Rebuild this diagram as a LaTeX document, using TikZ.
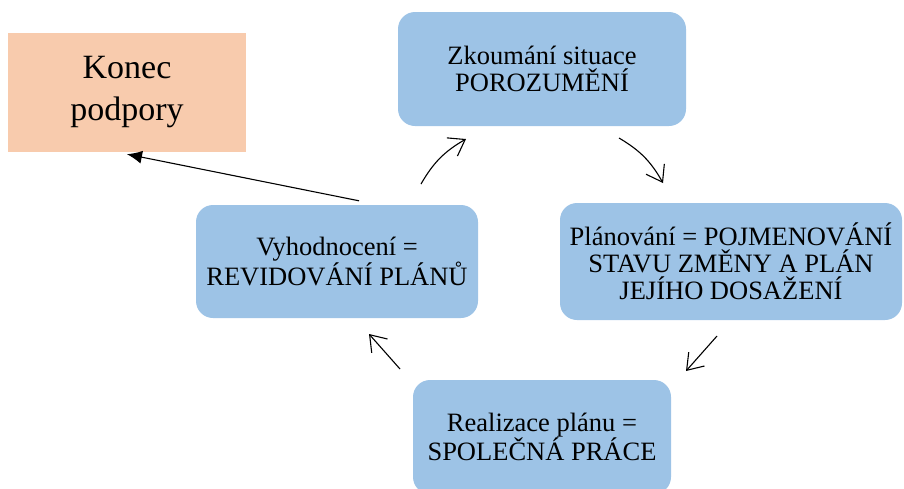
\documentclass[tikz,border=0pt]{standalone}
\usepackage{fontspec}
\setmainfont{Liberation Serif}
\usepackage{tikz}
\usetikzlibrary{positioning,arrows.meta}
\definecolor{phaseblue}{HTML}{9DC3E6}
\definecolor{endpeach}{HTML}{F8CBAD}
\tikzset{
	x=1pt, y=1pt,
	phase/.style={fill=phaseblue, rounded corners=17pt, align=center, inner sep=0pt,
		font=\fontsize{26.5}{27}\selectfont},
	stopbox/.style={fill=endpeach, align=center, inner sep=0pt,
		font=\fontsize{34}{42}\selectfont},
	cyclearrow/.style={-{Straight Barb[length=15pt,width=21pt]}, line width=1.1pt},
	endarrow/.style={-{Latex[length=15pt,width=13pt]}, line width=1.1pt},
}

\begin{document}
\begin{tikzpicture}
	\useasboundingbox (0,0) rectangle (904,-488);
	% faze cyklu
	\node[phase, minimum width=288, minimum height=114] (zkoum) at (542,-69)
		{Zkoumání situace\\POROZUMĚNÍ};
	\node[phase, minimum width=342, minimum height=117] (plan) at (731,-261.5)
		{Plánování = POJMENOVÁNÍ\\STAVU ZMĚNY A PLÁN\\JEJÍHO DOSAŽENÍ};
	\node[phase, minimum width=258, minimum height=114] (real) at (542,-437)
		{Realizace plánu =\\SPOLEČNÁ PRÁCE};
	\node[phase, minimum width=282, minimum height=113] (eval) at (337,-261.5)
		{Vyhodnocení =\\REVIDOVÁNÍ PLÁNŮ};
	\node[stopbox, minimum width=238, minimum height=119] (konec) at (127,-92.5)
		{Konec\\podpory};

	% sipky cyklu
	\coordinate (a1) at (421,-184);
	\coordinate (b1) at (466,-139);
	\coordinate (a2) at (619,-138);
	\coordinate (b2) at (663,-183);
	\coordinate (a3) at (717,-336);
	\coordinate (b3) at (686,-371);
	\coordinate (a4) at (400,-369);
	\coordinate (b4) at (369,-334);
	\draw[cyclearrow] (a1) to[bend left=15] (b1);
	\draw[cyclearrow] (a2) to[bend left=15] (b2);
	\draw[cyclearrow] (a3) -- (b3);
	\draw[cyclearrow] (a4) -- (b4);

	\draw[endarrow] ([shift={(22,4)}]eval.north) -- ([yshift=-2]konec.south);
\end{tikzpicture}
\end{document}
